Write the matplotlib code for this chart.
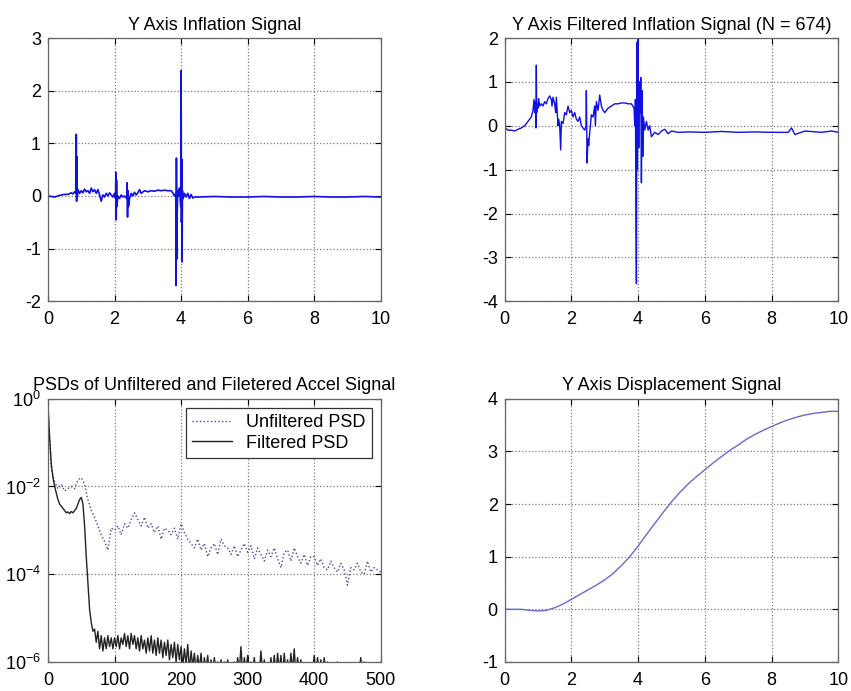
import numpy as np
import matplotlib
matplotlib.use("Agg")
import matplotlib.pyplot as plt
from matplotlib.ticker import FixedLocator, NullLocator

plt.rcParams['font.family'] = ['Liberation Sans', 'DejaVu Sans']
plt.rcParams['axes.unicode_minus'] = False

# --- top left: raw inflation signal
infl_t = [0.0, 0.1, 0.2, 0.3, 0.4, 0.5, 0.6, 0.7, 0.75, 0.8, 0.84, 0.85, 0.86, 0.87, 0.88,
          0.9, 0.95, 1.0, 1.05, 1.1, 1.15, 1.2, 1.25, 1.3, 1.35, 1.4, 1.45, 1.5, 1.55, 1.6,
          1.65, 1.7, 1.75, 1.8, 1.85, 1.9, 1.95, 2.0, 2.03, 2.04, 2.05, 2.06, 2.07, 2.1, 2.15,
          2.2, 2.25, 2.3, 2.37, 2.38, 2.39, 2.4, 2.42, 2.45, 2.5, 2.55, 2.6, 2.65, 2.7, 2.75,
          2.8, 2.9, 3.0, 3.1, 3.2, 3.3, 3.4, 3.5, 3.6, 3.7, 3.75, 3.8, 3.84, 3.85, 3.86, 3.87,
          3.88, 3.9, 3.92, 3.95, 3.98, 3.99, 4.0, 4.01, 4.02, 4.03, 4.04, 4.06, 4.1, 4.15, 4.2,
          4.25, 4.3, 4.35, 4.4, 4.5, 5.0, 5.5, 6.0, 6.5, 7.0, 7.5, 8.0, 8.5, 9.0, 9.5, 10.0]
infl_y = [0.0, -0.01, -0.02, 0.0, 0.02, 0.03, 0.03, 0.06, 0.04, 0.08, 0.05, 1.17, -0.1, 0.75, 0.0,
          0.12, 0.05, 0.1, 0.06, 0.13, 0.08, 0.1, 0.05, 0.15, 0.08, 0.12, 0.05, 0.12, 0.02, -0.1,
          0.02, -0.02, 0.05, 0.0, 0.06, 0.02, -0.02, 0.05, -0.05, 0.45, -0.45, 0.3, -0.2, 0.0, -0.05,
          0.02, -0.02, 0.0, -0.05, 0.25, -0.4, 0.1, -0.2, -0.05, 0.05, 0.0, 0.07, 0.02, 0.06, 0.12,
          0.05, 0.1, 0.08, 0.1, 0.09, 0.11, 0.1, 0.11, 0.1, 0.1, 0.06, 0.0, 0.05, -1.7, 0.72, -1.2,
          -0.4, 0.1, 0.0, 0.15, -0.1, -0.2, 2.38, -0.5, 0.7, -1.25, 0.1, -0.05, 0.05, -0.02, 0.05,
          -0.05, 0.03, -0.04, -0.02, -0.02, -0.01, -0.02, -0.02, -0.01, -0.02, -0.02, -0.01, -0.02, -0.02, -0.01, -0.02]

# --- top right: filtered inflation signal
filt_t = [0.0, 0.02, 0.1, 0.2, 0.3, 0.4, 0.5, 0.6, 0.7, 0.8, 0.85, 0.88, 0.9, 0.92, 0.94,
          0.95, 0.96, 0.98, 1.0, 1.02, 1.05, 1.1, 1.15, 1.2, 1.25, 1.3, 1.35, 1.4, 1.42, 1.45,
          1.5, 1.53, 1.55, 1.6, 1.62, 1.65, 1.68, 1.7, 1.75, 1.8, 1.85, 1.9, 1.95, 2.0, 2.05,
          2.1, 2.15, 2.2, 2.25, 2.3, 2.35, 2.4, 2.44, 2.45, 2.47, 2.5, 2.52, 2.55, 2.6, 2.65,
          2.7, 2.72, 2.75, 2.8, 2.85, 2.9, 2.95, 3.0, 3.1, 3.2, 3.3, 3.4, 3.5, 3.6, 3.7,
          3.8, 3.88, 3.9, 3.92, 3.94, 3.95, 3.96, 3.97, 3.98, 3.99, 4.0, 4.02, 4.04, 4.05, 4.07,
          4.08, 4.1, 4.12, 4.14, 4.16, 4.2, 4.25, 4.3, 4.35, 4.4, 4.5, 4.6, 4.7, 4.8, 4.9,
          5.0, 5.2, 5.5, 6.0, 6.5, 7.0, 7.5, 8.0, 8.5, 8.6, 8.7, 9.0, 9.5, 9.8, 10.0]
filt_y = [0.05, -0.05, -0.1, -0.1, -0.12, -0.08, -0.05, 0.0, 0.1, 0.2, 0.35, 0.6, 0.3, 0.55, -0.05,
          1.38, 0.3, 0.5, 0.4, 0.62, 0.45, 0.5, 0.45, 0.55, 0.5, 0.62, 0.68, 0.6, 0.45, 0.65,
          0.5, 0.3, 0.65, 0.0, 0.15, 0.0, -0.55, 0.1, 0.05, 0.3, 0.25, 0.45, 0.3, 0.35, 0.2,
          0.3, 0.15, 0.1, 0.2, 0.0, -0.05, -0.1, 0.0, 0.8, -0.85, -0.3, -0.45, -0.15, 0.25, 0.2,
          0.45, 0.0, 0.55, 0.35, 0.7, 0.45, 0.35, 0.3, 0.4, 0.45, 0.5, 0.5, 0.52, 0.52, 0.5,
          0.5, 0.4, 0.0, 0.6, -2.4, -3.6, 0.0, 1.9, -1.0, 2.0, 1.6, -0.5, 1.0, 0.6, 0.3,
          1.1, -1.3, 0.8, -0.7, 0.2, -0.1, 0.1, -0.1, 0.0, -0.25, -0.15, -0.2, -0.12, -0.08, -0.18,
          -0.12, -0.15, -0.14, -0.15, -0.13, -0.15, -0.14, -0.15, -0.15, -0.05, -0.2, -0.12, -0.15, -0.12, -0.15]

# --- bottom left: PSDs (log10 of power)
psd_f_filt = np.arange(0, 502.5, 2.5)
psd_filt_log10 = [
    -0.15, -0.9, -1.5, -1.8, -2.0, -2.15, -2.3, -2.4, -2.45, -2.5, -2.55, -2.6, -2.58, -2.62, -2.57, -2.6, -2.55, -2.5, -2.4, -2.3,
    -2.25, -2.4, -2.9, -3.6, -4.2, -4.8, -5.1, -5.3, -5.25, -5.55, -5.3, -5.7, -5.4, -5.75, -5.45, -5.7, -5.4, -5.65, -5.45, -5.7,
    -5.45, -5.65, -5.4, -5.7, -5.45, -5.6, -5.35, -5.65, -5.4, -5.7, -5.35, -5.6, -5.4, -5.7, -5.45, -5.75, -5.4, -5.7, -5.5, -5.8,
    -5.45, -5.75, -5.4, -5.8, -5.5, -5.85, -5.45, -5.8, -5.5, -5.9, -5.55, -5.85, -5.5, -5.95, -5.6, -5.9, -5.55, -6.0, -5.6, -5.95,
    -5.65, -6.1, -5.7, -6.05, -5.6, -6.2, -5.75, -6.1, -5.8, -6.2, -5.85, -6.15, -5.8, -6.3, -5.9, -6.2, -5.85, -6.3, -5.95, -6.25,
    -5.9, -6.3, -6.0, -6.25, -5.95, -6.3, -6.0, -6.2, -5.95, -6.3, -6.05, -6.25, -6.0, -6.3, -5.9, -6.2, -5.65, -6.3, -5.9, -6.2,
    -5.85, -6.3, -6.0, -6.2, -5.9, -6.3, -6.05, -6.25, -5.75, -6.3, -5.95, -6.2, -6.05, -6.3, -5.9, -6.25, -5.85, -6.3, -5.8, -6.2,
    -5.85, -6.3, -5.8, -6.25, -5.95, -6.3, -5.8, -6.2, -5.7, -6.3, -5.9, -6.2, -5.95, -6.3, -6.05, -6.2, -6.1, -6.3, -6.05, -6.25,
    -5.85, -6.3, -5.9, -6.2, -5.95, -6.3, -5.9, -6.25, -6.0, -6.3, -6.05, -6.2, -6.1, -6.3, -6.0, -6.25, -6.1, -6.3, -6.15, -6.2,
    -6.05, -6.3, -6.1, -6.25, -6.15, -6.3, -6.05, -6.2, -5.9, -6.3, -6.0, -6.2, -6.1, -6.3, -6.05, -6.25, -6.1, -6.3, -6.05, -6.2,
    -6.1]
psd_f_unf = np.arange(0, 505, 5)
psd_unf_log10 = [
    -0.2, -1.6, -1.9, -2.05, -1.95, -2.1, -2.05, -2.0, -2.05, -1.85, -1.8, -1.95, -2.3, -2.55, -2.7, -2.9, -3.1, -3.25, -3.45, -2.95,
    -3.0, -2.9, -3.1, -2.85, -2.95, -2.75, -2.6, -2.75, -2.9, -2.7, -2.95, -2.85, -3.05, -2.9, -3.2, -2.95, -3.0, -3.1, -2.95, -3.2,
    -2.85, -3.05, -3.2, -3.3, -3.4, -3.2, -3.45, -3.3, -3.6, -3.4, -3.3, -3.55, -3.2, -3.35, -3.4, -3.55, -3.35, -3.6, -3.45, -3.3,
    -3.5, -3.35, -3.65, -3.4, -3.55, -3.7, -3.45, -3.6, -3.4, -3.65, -3.85, -3.5, -3.45, -3.7, -3.4, -3.6, -3.75, -3.55, -3.8, -3.6,
    -3.6, -3.8, -3.65, -3.85, -3.9, -3.7, -3.85, -3.95, -3.75, -3.9, -4.25, -3.85, -3.9, -3.75, -3.95, -4.0, -3.7, -3.95, -3.85, -3.9,
    -3.95]

# --- bottom right: displacement
disp_t = np.arange(0, 10.25, 0.25)
disp_y = [0.0, 0.0, 0.0, -0.02, -0.03, -0.02, 0.03, 0.1, 0.19, 0.28, 0.37, 0.46, 0.56, 0.68, 0.83,
          1.0, 1.2, 1.42, 1.63, 1.84, 2.04, 2.22, 2.38, 2.52, 2.65, 2.78, 2.9, 3.02, 3.12, 3.23,
          3.32, 3.4, 3.47, 3.54, 3.6, 3.65, 3.69, 3.72, 3.74, 3.76, 3.76]

fig = plt.figure(figsize=(8.51, 6.91), dpi=100)
ax1 = fig.add_axes([0.0564, 0.564, 0.391, 0.381])
ax2 = fig.add_axes([0.593, 0.564, 0.392, 0.381])
ax3 = fig.add_axes([0.0564, 0.042, 0.391, 0.381])
ax4 = fig.add_axes([0.593, 0.042, 0.392, 0.381])


def matlab_style(ax):
    ax.grid(True, linestyle=':', color='#7a7a7a', linewidth=0.9)
    ax.tick_params(direction='in', labelsize=13, length=4, top=True, right=True)
    ax.tick_params(axis='x', pad=7)
    ax.tick_params(axis='y', pad=5)
    for s in ax.spines.values():
        s.set_color('#666666')
        s.set_linewidth(0.9)


ax1.plot(infl_t, infl_y, color='#1010e0', lw=1.2)
ax1.set_xlim(0, 10)
ax1.set_ylim(-2, 3)
ax1.set_xticks(range(0, 11, 2))
ax1.set_yticks(range(-2, 4))
ax1.set_title('Y Axis Inflation Signal', fontsize=13, pad=6)
matlab_style(ax1)

ax2.plot(filt_t, filt_y, color='#1010e0', lw=1.0)
ax2.set_xlim(0, 10)
ax2.set_ylim(-4, 2)
ax2.set_xticks(range(0, 11, 2))
ax2.set_yticks(range(-4, 3))
ax2.set_title('Y Axis Filtered Inflation Signal (N = 674)', fontsize=13, pad=6)
matlab_style(ax2)

ax3.semilogy(psd_f_unf, 10.0 ** np.array(psd_unf_log10), linestyle=':', color='#4a4a9a',
             lw=1.0, label='Unfiltered PSD')
ax3.semilogy(psd_f_filt, 10.0 ** np.array(psd_filt_log10), linestyle='-', color='#222222',
             lw=1.0, label='Filtered PSD')
ax3.set_xlim(0, 500)
ax3.set_ylim(1e-6, 1)
ax3.set_xticks(range(0, 501, 100))
ax3.yaxis.set_major_locator(FixedLocator([1e-6, 1e-4, 1e-2, 1]))
ax3.yaxis.set_minor_locator(NullLocator())
ax3.set_title('PSDs of Unfiltered and Filetered Accel Signal', fontsize=13, pad=6)
matlab_style(ax3)
leg = ax3.legend(loc='upper right', fontsize=13, fancybox=False, framealpha=1,
                 edgecolor='#333333', handlelength=2.2, borderaxespad=0.5,
                 labelspacing=0.2, borderpad=0.35)
leg.get_frame().set_linewidth(0.9)

ax4.plot(disp_t, disp_y, color='#6a6ac8', lw=1.0)
ax4.set_xlim(0, 10)
ax4.set_ylim(-1, 4)
ax4.set_xticks(range(0, 11, 2))
ax4.set_yticks(range(-1, 5))
ax4.set_title('Y Axis Displacement Signal', fontsize=13, pad=6)
matlab_style(ax4)

fig.savefig('out.png', dpi=100)
